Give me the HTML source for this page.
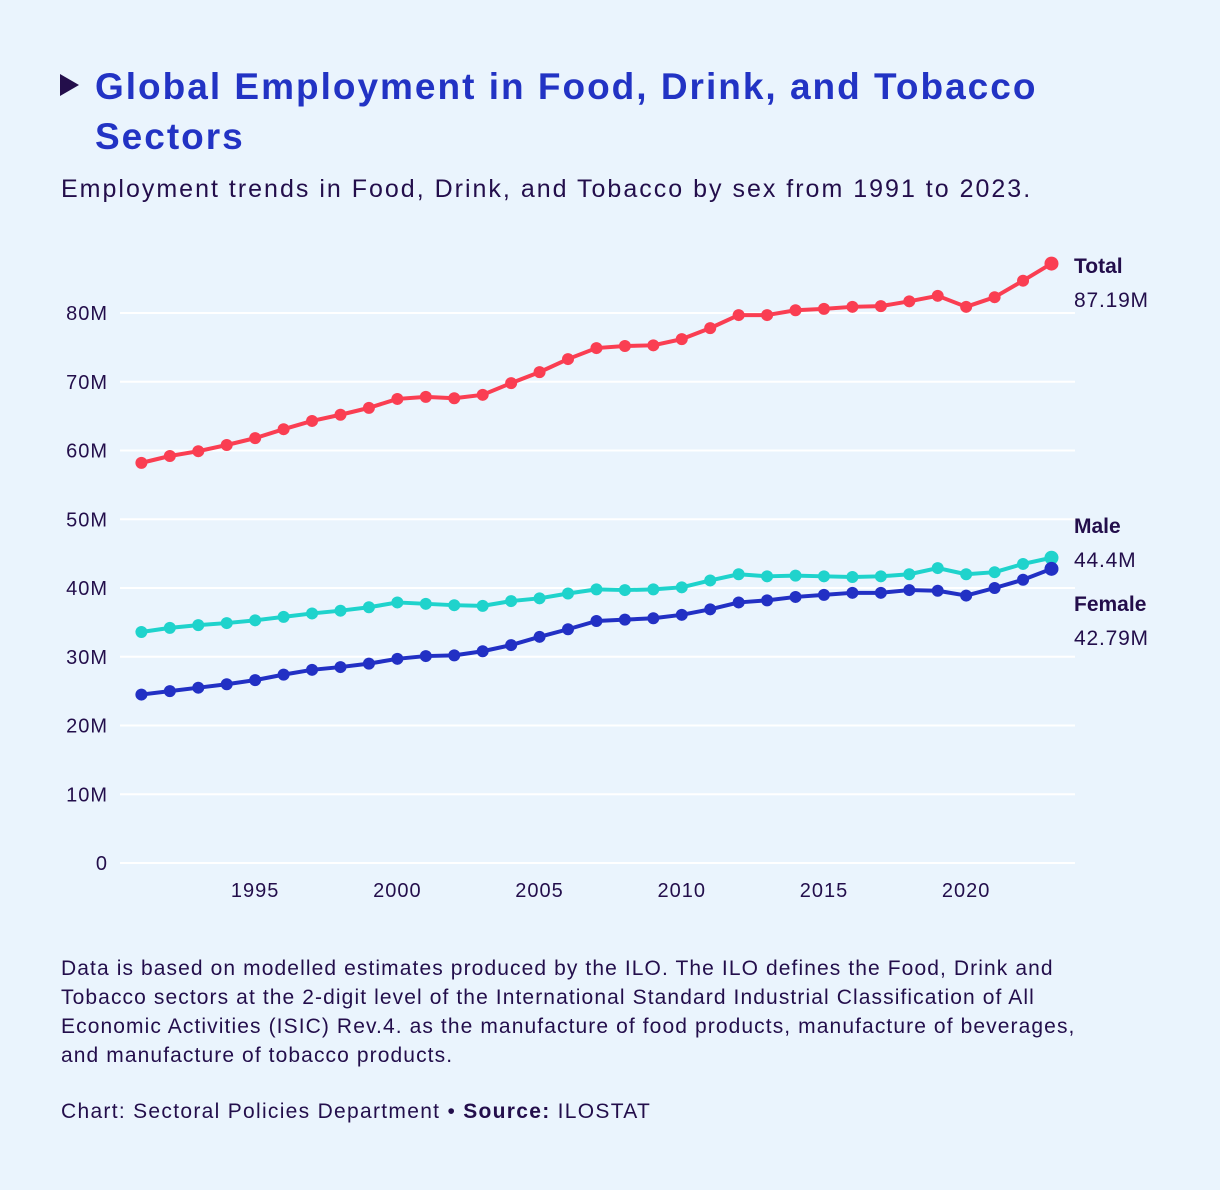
<!DOCTYPE html>
<html><head><meta charset="utf-8"><style>
body{margin:0;background:#eaf4fd;font-family:"Liberation Sans",sans-serif;color:#230e4b}
#wrap{position:relative;width:1220px;height:1190px;overflow:hidden}
h1{position:absolute;left:95px;top:62px;margin:0;font-size:37px;line-height:50px;color:#2233c4;font-weight:bold;width:1100px;letter-spacing:2px;white-space:nowrap}
.tri{position:absolute;left:60px;top:74px;width:0;height:0;border-top:11px solid transparent;border-bottom:11px solid transparent;border-left:19px solid #230e4b}
.sub{position:absolute;left:61px;top:175px;font-size:25px;letter-spacing:2px;white-space:nowrap}
.note{position:absolute;left:61px;top:954px;font-size:21px;line-height:29px;width:1130px;letter-spacing:1.1px;white-space:nowrap}
.src{position:absolute;left:61px;top:1100px;font-size:21px;letter-spacing:1.3px}
</style></head><body><div id="wrap">
<div class="tri"></div>
<h1>Global Employment in Food, Drink, and Tobacco<br>Sectors</h1>
<div class="sub">Employment trends in Food, Drink, and Tobacco by sex from 1991 to 2023.</div>
<svg id="chart" width="1220" height="1190" style="position:absolute;left:0;top:0"></svg>
<div class="note">Data is based on modelled estimates produced by the ILO. The ILO defines the Food, Drink and<br>Tobacco sectors at the 2-digit level of the International Standard Industrial Classification of All<br>Economic Activities (ISIC) Rev.4. as the manufacture of food products, manufacture of beverages,<br>and manufacture of tobacco products.</div>
<div class="src">Chart: Sectoral Policies Department • <b>Source:</b> ILOSTAT</div>
</div>
<script>
const years=[];for(let y=1991;y<=2023;y++)years.push(y);
const total=[58.2,59.2,59.9,60.8,61.8,63.1,64.3,65.2,66.2,67.5,67.8,67.6,68.1,69.8,71.4,73.3,74.9,75.2,75.3,76.2,77.8,79.7,79.7,80.4,80.6,80.9,81.0,81.7,82.5,80.9,82.3,84.7,87.19];
const male=[33.6,34.2,34.6,34.9,35.3,35.8,36.3,36.7,37.2,37.9,37.7,37.5,37.4,38.1,38.5,39.2,39.8,39.7,39.8,40.1,41.1,42.0,41.7,41.8,41.7,41.6,41.7,42.0,42.9,42.0,42.3,43.5,44.4];
const female=[24.5,25.0,25.5,26.0,26.6,27.4,28.1,28.5,29.0,29.7,30.1,30.2,30.8,31.7,32.9,34.0,35.2,35.4,35.6,36.1,36.9,37.9,38.2,38.7,39.0,39.3,39.3,39.7,39.6,38.9,40.0,41.2,42.79];
const yTicks=[0,10,20,30,40,50,60,70,80];
const xTicks=[1995,2000,2005,2010,2015,2020];
const NS='http://www.w3.org/2000/svg',svg=document.getElementById('chart');
const X=y=>141.4+(y-1991)*28.44, Y=v=>863-v*6.875;
function mk(t,a,txt){const e=document.createElementNS(NS,t);for(const k in a)e.setAttribute(k,a[k]);if(txt!=null)e.textContent=txt;svg.appendChild(e);return e;}
yTicks.forEach(v=>{
 const l=mk('line',{x1:120,x2:1075,y1:Y(v),y2:Y(v),stroke:'#ffffff','stroke-width':2});
 
 
 const t=mk('text',{x:108,y:Y(v)+7,'text-anchor':'end','font-size':20,'letter-spacing':1,fill:'#230e4b','font-family':'Liberation Sans, sans-serif'},v===0?'0':v+'M');
 
 
});
xTicks.forEach(y=>{
 const t=mk('text',{x:X(y),y:897,'text-anchor':'middle','font-size':20,'letter-spacing':1,fill:'#230e4b','font-family':'Liberation Sans, sans-serif'},String(y));
 
 
});
function series(vals,color,name,label,value,ly){
 const p=mk('polyline',{points:vals.map((v,i)=>X(years[i])+','+Y(v)).join(' '),fill:'none',stroke:color,'stroke-width':4,'stroke-linejoin':'round'});
 
 
 vals.forEach((v,i)=>{const c=mk('circle',{cx:X(years[i]),cy:Y(v),r:i===vals.length-1?7:6,fill:color});
  
  });
 const a=mk('text',{x:1074,y:ly,'font-size':21,'font-weight':'bold',fill:'#230e4b','font-family':'Liberation Sans, sans-serif'},label);
 
 
 const b=mk('text',{x:1074,y:ly+34,'font-size':21,'letter-spacing':0.8,fill:'#230e4b','font-family':'Liberation Sans, sans-serif'},value);
 
 
}
series(total,'#fa3e52','total','Total',total[total.length-1]+'M',273);
series(male,'#1fd3cc','male','Male',male[male.length-1]+'M',533);
series(female,'#2230c4','female','Female',female[female.length-1]+'M',611);
</script></body></html>
